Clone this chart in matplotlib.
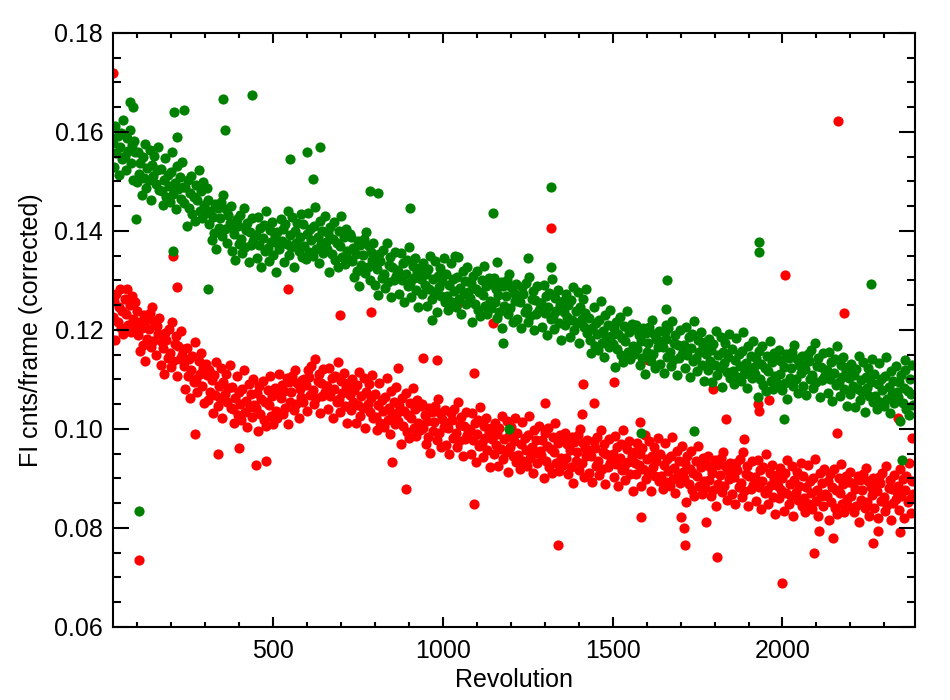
import numpy as np
import matplotlib
matplotlib.use("Agg")
import matplotlib.pyplot as plt
from matplotlib.ticker import MultipleLocator, FormatStrFormatter

plt.rcParams['font.family'] = ['Liberation Sans', 'DejaVu Sans']

# revolution number of each observation (shared by both series)
rev = [30,33,37,40,44,47,51,54,58,61,65,68,72,75,79,82,86,89,93,96,
       100,103,107,110,114,117,121,124,128,131,135,138,142,145,149,152,156,159,163,166,
       170,173,177,180,184,187,191,194,198,201,205,208,212,215,219,222,226,229,233,236,
       240,243,247,250,254,257,261,264,268,271,275,278,282,285,289,292,296,299,303,306,
       310,313,317,320,324,327,331,334,338,341,345,348,352,355,359,362,366,369,373,376,
       380,383,387,390,394,397,401,404,408,411,415,418,422,425,429,432,436,439,443,446,
       450,453,457,460,464,467,471,474,478,481,485,488,492,495,499,502,506,509,513,516,
       520,523,527,530,534,537,541,544,548,551,555,558,562,565,569,572,576,579,583,586,
       590,593,597,600,604,607,611,614,618,621,625,628,632,635,639,642,646,649,653,656,
       660,663,667,670,674,677,681,684,688,691,695,698,702,705,709,712,716,719,723,726,
       730,733,737,740,744,747,751,754,758,761,765,768,772,775,779,782,786,789,793,796,
       800,803,807,810,814,817,821,824,828,831,835,838,842,845,849,852,856,859,863,866,
       870,873,877,880,884,887,891,894,898,901,905,908,912,915,919,922,926,929,933,936,
       940,943,947,950,954,957,961,964,968,971,975,978,982,985,989,992,996,999,1003,1006,
       1010,1013,1017,1020,1024,1027,1031,1034,1038,1041,1045,1048,1052,1055,1059,1062,1066,1069,1073,1076,
       1080,1083,1087,1090,1094,1097,1101,1104,1108,1111,1115,1118,1122,1125,1129,1132,1136,1139,1143,1146,
       1150,1153,1157,1160,1164,1167,1171,1174,1178,1181,1185,1188,1192,1195,1199,1202,1206,1209,1213,1216,
       1220,1223,1227,1230,1234,1237,1241,1244,1248,1251,1255,1258,1262,1265,1269,1272,1276,1279,1283,1286,
       1290,1293,1297,1300,1304,1307,1311,1314,1318,1321,1325,1328,1332,1335,1339,1342,1346,1349,1353,1356,
       1360,1363,1367,1370,1374,1377,1381,1384,1388,1391,1395,1398,1402,1405,1409,1412,1416,1419,1423,1426,
       1430,1433,1437,1440,1444,1447,1451,1454,1458,1461,1465,1468,1472,1475,1479,1482,1486,1489,1493,1496,
       1500,1503,1507,1510,1514,1517,1521,1524,1528,1531,1535,1538,1542,1545,1549,1552,1556,1559,1563,1566,
       1570,1573,1577,1580,1584,1587,1591,1594,1598,1601,1605,1608,1612,1615,1619,1622,1626,1629,1633,1636,
       1640,1643,1647,1650,1654,1657,1661,1664,1668,1671,1675,1678,1682,1685,1689,1692,1696,1699,1703,1706,
       1710,1713,1717,1720,1724,1727,1731,1734,1738,1741,1745,1748,1752,1755,1759,1762,1766,1769,1773,1776,
       1780,1783,1787,1790,1794,1797,1801,1804,1808,1811,1815,1818,1822,1825,1829,1832,1836,1839,1843,1846,
       1850,1853,1857,1860,1864,1867,1871,1874,1878,1881,1885,1888,1892,1895,1899,1902,1906,1909,1913,1916,
       1920,1923,1927,1930,1934,1937,1941,1944,1948,1951,1955,1958,1962,1965,1969,1972,1976,1979,1983,1986,
       1990,1993,1997,2000,2004,2007,2011,2014,2018,2021,2025,2028,2032,2035,2039,2042,2046,2049,2053,2056,
       2060,2063,2067,2070,2074,2077,2081,2084,2088,2091,2095,2098,2102,2105,2109,2112,2116,2119,2123,2126,
       2130,2133,2137,2140,2144,2147,2151,2154,2158,2161,2165,2168,2172,2175,2179,2182,2186,2189,2193,2196,
       2200,2203,2207,2210,2214,2217,2221,2224,2228,2231,2235,2238,2242,2245,2249,2252,2256,2259,2263,2266,
       2270,2273,2277,2280,2284,2287,2291,2294,2298,2301,2305,2308,2312,2315,2319,2322,2326,2329,2333,2336,
       2340,2343,2347,2350,2354,2357,2361,2364,2368,2371,2375,2378,2382,2385]

# FI counts/frame, in units of 1e-4
green = [1577,1530,1613,1557,1592,1513,1570,1598,1545,1625,1551,1524,1587,1562,1603,1537,1574,1503,1582,1559,
         1498,1560,1515,1538,1473,1549,1508,1575,1487,1527,1502,1564,1462,1534,1511,1551,1494,1523,1570,1482,
         1525,1480,1453,1503,1547,1468,1514,1491,1459,1520,1559,1474,1497,1445,1531,1484,1510,1465,1540,1488,
         1457,1488,1410,1502,1446,1476,1512,1434,1469,1421,1493,1463,1523,1441,1481,1426,1498,1452,1437,1486,
         1463,1414,1441,1382,1429,1395,1455,1363,1446,1407,1426,1459,1390,1472,1403,1444,1375,1433,1417,1450,
         1360,1405,1394,1341,1424,1410,1374,1432,1383,1355,1446,1367,1401,1417,1337,1398,1371,1427,1379,1392,
         1392,1345,1428,1372,1407,1328,1385,1413,1360,1440,1366,1339,1402,1377,1418,1352,1389,1318,1397,1374,
         1363,1425,1380,1403,1338,1414,1373,1440,1352,1392,1367,1429,1327,1399,1376,1416,1359,1388,1435,1347,
         1415,1370,1343,1393,1437,1358,1404,1381,1349,1410,1449,1364,1387,1335,1421,1374,1400,1355,1430,1378,
         1364,1395,1317,1409,1353,1383,1419,1341,1376,1328,1400,1370,1430,1348,1388,1333,1405,1359,1344,1393,
         1388,1339,1366,1307,1354,1320,1380,1288,1371,1332,1351,1384,1315,1397,1328,1369,1300,1358,1342,1375,
         1290,1335,1324,1271,1354,1340,1304,1362,1313,1285,1376,1297,1331,1347,1267,1328,1301,1357,1309,1322,
         1320,1273,1356,1300,1335,1256,1313,1341,1288,1368,1294,1267,1330,1305,1346,1280,1317,1246,1325,1302,
         1273,1335,1290,1313,1248,1324,1283,1350,1262,1302,1277,1339,1237,1309,1286,1326,1269,1298,1345,1257,
         1313,1268,1241,1291,1335,1256,1302,1279,1247,1308,1347,1262,1285,1233,1319,1272,1298,1253,1328,1276,
         1264,1295,1217,1309,1253,1283,1319,1241,1276,1228,1300,1270,1330,1248,1288,1233,1305,1259,1244,1293,
         1305,1256,1283,1224,1271,1237,1297,1205,1288,1249,1268,1301,1232,1314,1245,1286,1217,1275,1259,1292,
         1222,1267,1256,1203,1286,1272,1236,1294,1245,1217,1308,1229,1263,1279,1199,1260,1233,1289,1241,1254,
         1254,1207,1290,1234,1269,1190,1247,1275,1222,1302,1228,1201,1264,1239,1280,1214,1251,1180,1259,1236,
         1210,1272,1227,1250,1185,1261,1220,1287,1199,1239,1214,1276,1174,1246,1223,1263,1206,1235,1282,1194,
         1225,1180,1153,1203,1247,1168,1214,1191,1159,1220,1259,1174,1197,1145,1231,1184,1210,1165,1240,1188,
         1172,1203,1125,1217,1161,1191,1227,1149,1184,1136,1208,1178,1238,1156,1196,1141,1213,1167,1152,1201,
         1211,1162,1189,1130,1177,1143,1203,1111,1194,1155,1174,1207,1138,1220,1151,1192,1123,1181,1165,1198,
         1132,1177,1166,1113,1196,1182,1146,1204,1155,1127,1218,1139,1173,1189,1109,1170,1143,1199,1151,1164,
         1170,1123,1206,1150,1185,1106,1163,1191,1138,1218,1144,1117,1180,1155,1196,1130,1167,1096,1175,1152,
         1120,1182,1137,1160,1095,1171,1130,1197,1109,1149,1124,1186,1084,1156,1133,1173,1116,1145,1192,1104,
         1162,1117,1090,1140,1184,1105,1151,1128,1096,1157,1196,1111,1134,1082,1168,1121,1147,1102,1177,1125,
         1112,1143,1065,1157,1101,1131,1167,1089,1124,1076,1148,1118,1178,1096,1136,1081,1153,1107,1092,1141,
         1160,1111,1138,1079,1126,1092,1152,1060,1143,1104,1123,1156,1087,1169,1100,1141,1072,1130,1114,1147,
         1087,1132,1121,1068,1151,1137,1101,1159,1110,1082,1173,1094,1128,1144,1064,1125,1098,1154,1106,1119,
         1120,1073,1156,1100,1135,1056,1113,1141,1088,1168,1094,1067,1130,1105,1146,1080,1117,1046,1125,1102,
         1070,1132,1087,1110,1045,1121,1080,1147,1059,1099,1074,1136,1034,1106,1083,1123,1066,1095,1142,1054,
         1112,1067,1040,1090,1134,1055,1101,1078,1046,1107,1146,1061,1084,1032,1118,1071,1097,1052,1127,1075,
         1064,1095,1017,1109,1053,1083,1119,1041,1076,1028,1100,1070,1130,1048]

red = [1227,1258,1180,1272,1216,1246,1282,1204,1239,1191,1263,1233,1283,1211,1251,1196,1268,1222,1207,1256,
       1238,1189,1216,1157,1204,1170,1230,1138,1221,1182,1201,1234,1165,1247,1178,1219,1150,1208,1192,1225,
       1130,1175,1164,1111,1194,1180,1144,1202,1153,1125,1216,1137,1171,1187,1107,1168,1141,1197,1149,1162,
       1127,1080,1163,1107,1142,1063,1120,1148,1095,1175,1101,1074,1137,1112,1153,1087,1124,1053,1132,1109,
       1058,1120,1075,1098,1033,1109,1068,1135,1047,1087,1062,1124,1022,1094,1071,1111,1054,1083,1130,1042,
       1085,1040,1013,1063,1107,1028,1074,1051,1019,1080,1119,1034,1057,1005,1091,1044,1070,1025,1100,1048,
       1042,1073,995,1087,1031,1061,1097,1019,1054,1006,1078,1048,1108,1026,1066,1011,1083,1037,1022,1071,
       1111,1062,1089,1030,1077,1043,1103,1011,1094,1055,1074,1107,1038,1120,1051,1092,1023,1081,1065,1098,
       1055,1100,1089,1036,1119,1105,1069,1127,1078,1050,1141,1062,1096,1112,1032,1093,1066,1122,1074,1087,
       1087,1040,1123,1067,1102,1023,1080,1108,1055,1135,1061,1034,1097,1072,1113,1047,1084,1013,1092,1069,
       1038,1100,1055,1078,1013,1089,1048,1115,1027,1067,1042,1104,1002,1074,1051,1091,1034,1063,1110,1022,
       1070,1025,998,1048,1092,1013,1059,1036,1004,1065,1104,1019,1042,990,1076,1029,1055,1010,1085,1033,
       1017,1048,970,1062,1006,1036,1072,994,1029,981,1053,1023,1083,1001,1041,986,1058,1012,997,1046,
       1051,1002,1029,970,1017,983,1043,951,1034,995,1014,1047,978,1060,991,1032,963,1021,1005,1038,
       968,1013,1002,949,1032,1018,982,1040,991,963,1054,975,1009,1025,945,1006,979,1035,987,1000,
       997,950,1033,977,1012,933,990,1018,965,1045,971,944,1007,982,1023,957,994,923,1002,979,
       950,1012,967,990,925,1001,960,1027,939,979,954,1016,914,986,963,1003,946,975,1022,934,
       992,947,920,970,1014,935,981,958,926,987,1026,941,964,912,998,951,977,932,1007,955,
       947,978,900,992,936,966,1002,924,959,911,983,953,1013,931,971,916,988,942,927,976,
       991,942,969,910,957,923,983,891,974,935,954,987,918,1000,931,972,903,961,945,978,
       912,957,946,893,976,962,926,984,935,907,998,919,953,969,889,950,923,979,931,944,
       949,902,985,929,964,885,942,970,917,997,923,896,959,934,975,909,946,875,954,931,
       910,972,927,950,885,961,920,987,899,939,914,976,874,946,923,963,906,935,982,894,
       950,905,878,928,972,893,939,916,884,945,984,899,922,870,956,909,935,890,965,913,
       900,931,853,945,889,919,955,877,912,864,936,906,966,884,924,869,941,895,880,929,
       945,896,923,864,911,877,937,845,928,889,908,941,872,954,885,926,857,915,899,932,
       868,913,902,849,932,918,882,940,891,863,954,875,909,925,845,906,879,935,887,900,
       902,855,938,882,917,838,895,923,870,950,876,849,912,887,928,862,899,828,907,884,
       860,922,877,900,835,911,870,937,849,889,864,926,824,896,873,913,856,885,932,844,
       905,860,833,883,927,848,894,871,839,900,939,854,877,825,911,864,890,845,920,868,
       864,895,817,909,853,883,919,841,876,828,900,870,930,848,888,833,905,859,844,893,
       913,864,891,832,879,845,905,813,896,857,876,909,840,922,853,894,825,883,867,900,
       840,885,874,821,904,890,854,912,863,835,926,847,881,897,817,878,851,907,859,872,
       884,837,920,864,899,820,877,905,852,932,858,831,894,869]

# isolated points away from the main bands
green_out_rev = [80, 90, 98, 106, 206, 210, 218, 240, 309, 354,
                 360, 439, 550, 600, 620, 640, 786, 809, 903, 968,
                 1036, 1148, 1160, 1177, 1195, 1250, 1318, 1320, 1583, 1656,
                 1658, 1660, 1739, 1930, 1932, 2003, 2259, 2353, 2359]
green_out = [1660, 1650, 1425, 834, 1360, 1640, 1590, 1645, 1282, 1667,
             1604, 1675, 1545, 1560, 1505, 1570, 1480, 1477, 1446, 1220,
             1350, 1436, 1338, 1174, 1000, 1345, 1489, 1327, 992, 1242,
             1210, 1300, 995, 1378, 1357, 1020, 1293, 937, 1140]

red_out_rev = [30, 106, 206, 218, 270, 340, 400, 450, 480, 545,
               698, 789, 850, 868, 892, 942, 983, 1045, 1092, 1092,
               1148, 1300, 1318, 1339, 1409, 1412, 1445, 1503, 1580, 1583,
               1603, 1700, 1710, 1712, 1774, 1795, 1806, 1833, 1888, 1927,
               1930, 1960, 2000, 2006, 2094, 2108, 2150, 2159, 2162, 2180,
               2265, 2280, 2339, 2345, 2382]
red_out = [1720, 735, 1350, 1287, 990, 950, 962, 928, 935, 1283,
           1230, 1236, 933, 1123, 879, 1143, 1139, 1255, 1113, 849,
           1214, 1053, 1406, 766, 1030, 1090, 1053, 1095, 1015, 822,
           1140, 822, 799, 766, 812, 1080, 741, 1020, 980, 1050,
           1037, 1059, 689, 1311, 749, 794, 780, 992, 1622, 1234,
           770, 794, 1022, 792, 982]

fig = plt.figure(figsize=(9.5, 7), dpi=100)
ax = fig.add_axes([0.1189, 0.1043, 0.8443, 0.8486])

s = 54
ax.scatter(rev, np.array(red) * 1e-4, s=s, c='#ff0000', linewidths=0)
ax.scatter(red_out_rev, np.array(red_out) * 1e-4, s=s, c='#ff0000', linewidths=0)
ax.scatter(rev, np.array(green) * 1e-4, s=s, c='#008000', linewidths=0)
ax.scatter(green_out_rev, np.array(green_out) * 1e-4, s=s, c='#008000', linewidths=0)

ax.set_xlim(30, 2390)
ax.set_ylim(0.06, 0.18)
ax.xaxis.set_major_locator(MultipleLocator(500))
ax.xaxis.set_minor_locator(MultipleLocator(100))
ax.yaxis.set_major_locator(MultipleLocator(0.02))
ax.yaxis.set_minor_locator(MultipleLocator(0.005))
ax.yaxis.set_major_formatter(FormatStrFormatter('%.2f'))

ax.tick_params(which='both', direction='in', top=True, right=True, width=1.5,
               labelsize=18)
ax.tick_params(axis='y', which='major', length=11.5, pad=7)
ax.tick_params(axis='y', which='minor', length=5.8)
ax.tick_params(axis='x', which='major', length=7.2, pad=9)
ax.tick_params(axis='x', which='minor', length=3.6)
for sp in ax.spines.values():
    sp.set_linewidth(1.5)

ax.set_xlabel('Revolution', fontsize=18, labelpad=3)
ax.set_ylabel('FI cnts/frame (corrected)', fontsize=18, labelpad=8)

plt.savefig('out.png', dpi=100)
